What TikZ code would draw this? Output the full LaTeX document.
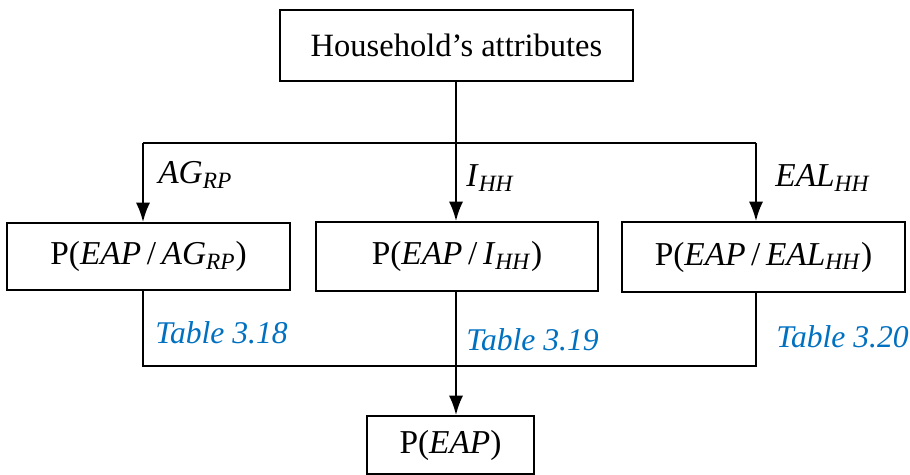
\documentclass[tikz,border=0pt]{standalone}
\usepackage{fontspec}
\setmainfont{Liberation Serif}
\usetikzlibrary{arrows.meta}
\definecolor{bleutable}{RGB}{0,112,192}
\begin{document}
\begin{tikzpicture}[x=0.02cm,y=-0.02cm]
			\tikzstyle{fleche}=[-{Latex[length=11pt,width=8pt]},line width=1.1pt]
			\tikzstyle{trait}=[line width=1.1pt]
			\tikzstyle{boite}=[draw,line width=1.1pt,inner sep=0pt,font=\fontsize{19}{22}\selectfont]
			\tikzstyle{etiquette}=[anchor=west,inner sep=0pt,font=\fontsize{19}{22}\selectfont]
			\tikzstyle{tableau}=[etiquette,text=bleutable,font=\itshape\fontsize{18}{21}\selectfont]
			\def\Fourche{143}\def\Jonction{366}
			\def\BrancheA{143}\def\BrancheB{456}\def\BrancheC{756}
			\useasboundingbox (0,0) rectangle (910,475);
			%
			\node[boite,font=\fontsize{18.5}{22}\selectfont,minimum width=7.06cm,minimum height=1.42cm] (Attr) at (456.5,45.5) {Household's attributes};
			\node[boite,minimum width=5.66cm,minimum height=1.34cm] (PAg) at (148.5,256.5) {P(\textit{EAP}\,/\,\textit{AG}\textsubscript{\textit{RP}})};
			\node[boite,minimum width=5.64cm,minimum height=1.38cm] (PI) at (457,256.5) {P(\textit{EAP}\,/\,\textit{I}\textsubscript{\textit{HH}})};
			\node[boite,minimum width=5.66cm,minimum height=1.40cm] (PEal) at (763.5,257) {P(\textit{EAP}\,/\,\textit{EAL}\textsubscript{\textit{HH}})};
			\node[boite,minimum width=3.34cm,minimum height=1.16cm] (PEap) at (450.5,445) {P(\textit{EAP})};
			%
			\coordinate (FA) at (\BrancheA,\Fourche);\coordinate (FB) at (\BrancheB,\Fourche);\coordinate (FC) at (\BrancheC,\Fourche);
			\coordinate (JA) at (\BrancheA,\Jonction);\coordinate (JB) at (\BrancheB,\Jonction);\coordinate (JC) at (\BrancheC,\Jonction);
			%
			\draw[trait] (FB |- Attr.south)--(FB);
			\draw[trait] (FA)--(FC);
			\draw[fleche] (FA)--(FA |- PAg.north);
			\draw[fleche] (FB)--(FB |- PI.north);
			\draw[fleche] (FC)--(FC |- PEal.north);
			\draw[trait] (JA |- PAg.south)--(JA)--(JC)--(JC |- PEal.south);
			\draw[fleche] (JB |- PI.south)--(PEap.north -| JB);
			%
			\node[etiquette] (lAg) at (158,175) {\textit{AG}\textsubscript{\textit{RP}}};
			\node[etiquette] (lI) at (466,178) {\textit{I}\textsubscript{\textit{HH}}};
			\node[etiquette] (lEal) at (775,178) {\textit{EAL}\textsubscript{\textit{HH}}};
			\node[tableau] (tA) at (155,333) {Table 3.18};
			\node[tableau] (tB) at (466,340) {Table 3.19};
			\node[tableau] (tC) at (776,337) {Table 3.20};
		\end{tikzpicture}
\end{document}
